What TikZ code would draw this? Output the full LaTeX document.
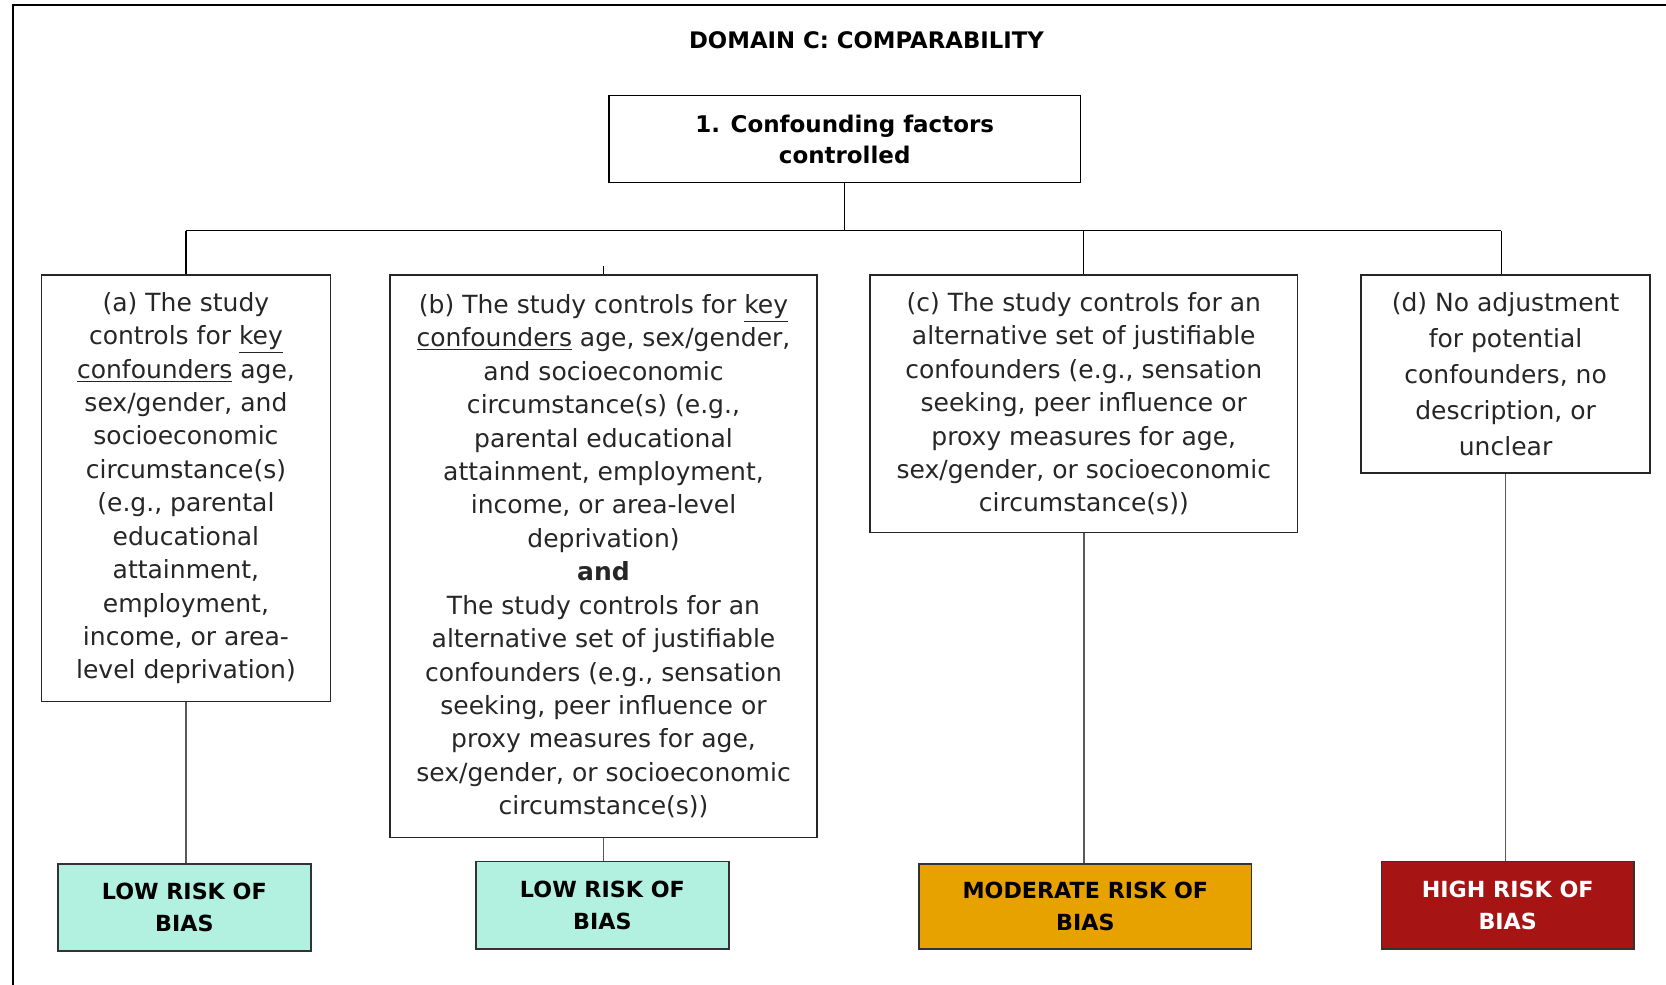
\documentclass[tikz,border=0pt]{standalone}
\usepackage{fontspec}
\setmainfont{DejaVu Sans}
\usetikzlibrary{positioning}

\definecolor{lowfill}{RGB}{178,240,224}
\definecolor{modfill}{RGB}{232,162,0}
\definecolor{highfill}{RGB}{166,20,20}

\begin{document}
\begin{tikzpicture}[
    question/.style={rectangle, draw=black, line width=0.8pt, inner sep=0pt,
                     align=center, font=\fontsize{12.3}{16.5}\selectfont\bfseries},
    option/.style={rectangle, draw=black!85, line width=0.8pt, inner sep=0pt,
                   align=center, text=black!85, font=\fontsize{13.4}{17.9}\selectfont},
    risk/.style={rectangle, draw=black!80, line width=0.8pt, inner sep=0pt,
                 align=center, minimum height=1.64cm,
                 font=\fontsize{11.9}{16.8}\selectfont\bfseries},
    lowrisk/.style={risk, fill=lowfill, minimum width=4.76cm},
    modrisk/.style={risk, fill=modfill, minimum width=6.26cm, minimum height=1.60cm},
    highrisk/.style={risk, fill=highfill, text=white, minimum width=4.76cm},
    link/.style={draw=black, line width=0.7pt},
    drop/.style={draw=black!65, line width=0.8pt},
]
  \useasboundingbox (0,0) rectangle (31.36,-18.54);

  % Frame
  \draw[line width=1.2pt] (0.24,-18.54) -- (0.24,-0.10) -- (31.36,-0.10);

  % Title and question
  \node[font=\fontsize{12.2}{14}\selectfont\bfseries] (title) at (16.31,-0.76)
    {DOMAIN C: COMPARABILITY};
  \node[question, minimum width=8.88cm, minimum height=1.64cm] (q1) at (15.90,-2.62)
    {1. Confounding factors\\controlled};

  % Answer options
  \node[option, minimum width=5.44cm, minimum height=8.02cm] (a) at (3.50,-9.19)
    {(a) The study\\controls for \underline{key}\\\underline{confounders} age,\\sex/gender, and\\socioeconomic\\circumstance(s)\\(e.g., parental\\educational\\attainment,\\employment,\\income, or area-\\level deprivation)};
  \node[option, minimum width=8.04cm, minimum height=10.58cm] (b) at (11.36,-10.47)
    {(b) The study controls for \underline{key}\\\underline{confounders} age, sex/gender,\\and socioeconomic\\circumstance(s) (e.g.,\\parental educational\\attainment, employment,\\income, or area-level\\deprivation)\\\textbf{and}\\The study controls for an\\alternative set of justifiable\\confounders (e.g., sensation\\seeking, peer influence or\\proxy measures for age,\\sex/gender, or socioeconomic\\circumstance(s))};
  \node[option, minimum width=8.04cm, minimum height=4.84cm] (c) at (20.40,-7.60)
    {(c) The study controls for an\\alternative set of justifiable\\confounders (e.g., sensation\\seeking, peer influence or\\proxy measures for age,\\sex/gender, or socioeconomic\\circumstance(s))};
  \node[option, minimum width=5.44cm, minimum height=3.72cm,
        font=\fontsize{13.4}{19.3}\selectfont] (d) at (28.34,-7.04)
    {(d) No adjustment\\for potential\\confounders, no\\description, or\\unclear};

  % Risk judgements
  \node[lowrisk] (low1) at (3.47,-17.08) {LOW RISK OF\\BIAS};
  \node[lowrisk] (low2) at (11.34,-17.04) {LOW RISK OF\\BIAS};
  \node[modrisk] (mod) at (20.43,-17.06) {MODERATE RISK OF\\BIAS};
  \node[highrisk] (high) at (28.38,-17.04) {HIGH RISK OF\\BIAS};

  % Tree
  \coordinate (barL) at (3.50,-4.34);
  \coordinate (barR) at (28.26,-4.34);
  \coordinate (bstub) at (11.36,-5.00);
  \draw[link] (q1.south) -- (q1.south |- barL);
  \draw[link] (barL) -- (barR);
  \draw[link] (barL) -- (a.north);
  \draw[link] (c.north |- barL) -- (c.north);
  \draw[link] (barR) -- (barR |- d.north);
  \draw[link] (bstub) -- (b.north);

  % Options -> judgements
  \draw[drop] (a.south) -- (a.south |- low1.north);
  \draw[drop] (b.south) -- (b.south |- low2.north);
  \draw[drop] (c.south) -- (c.south |- mod.north);
  \draw[drop] (d.south) -- (d.south |- high.north);

\end{tikzpicture}
\end{document}
